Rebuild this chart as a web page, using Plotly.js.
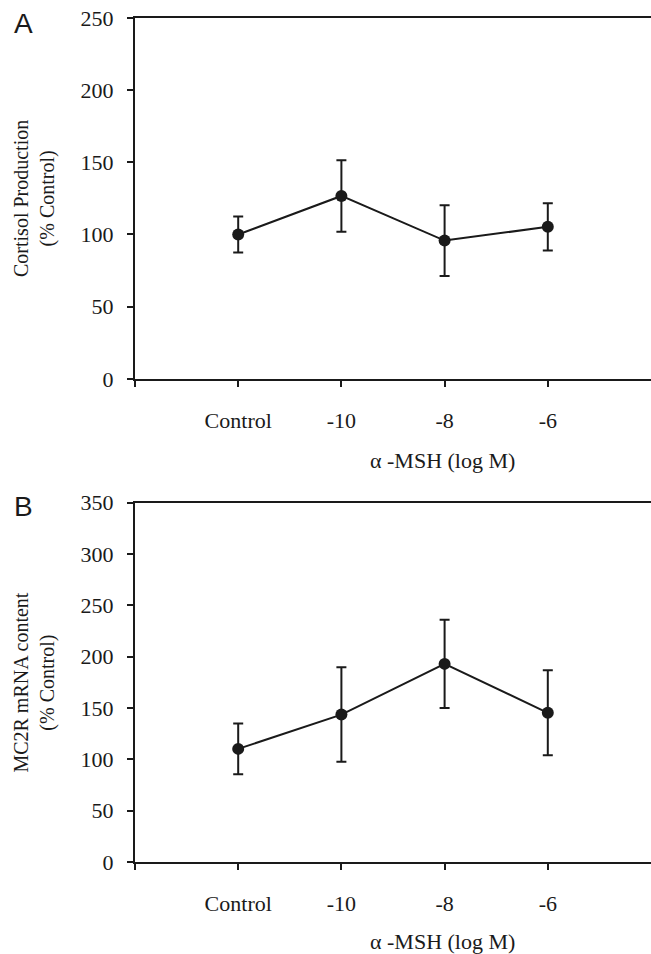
<!DOCTYPE html>
<html>
<head>
<meta charset="utf-8">
<script src="https://cdn.plot.ly/plotly-3.0.1.min.js"></script>
<style>html,body{margin:0;padding:0;background:#fff;}#chart{width:651px;height:954px;}</style>
</head>
<body>
<div id="chart"></div>
<script>
// Data
var categories = ["Control", "-10", "-8", "-6"];
var cortisolMean = [100, 126.7, 95.8, 105.3];
var cortisolErr = [12.5, 24.8, 24.5, 16.4];
var mc2rMean = [110.2, 143.6, 193, 145.3];
var mc2rErr = [24.7, 46, 43, 41.4];
var panelLabels = ["A", "B"];
var yTitleA = "Cortisol Production<br>(% Control)";
var yTitleB = "MC2R mRNA content<br>(% Control)";
var xTitle = "\u03b1 -MSH (log M)";

var xpos = categories.map(function(c, i){ return i; });
var serif = "Liberation Serif, Times New Roman, serif";
var ink = "#1a1a1a";

function trace(y, err, xa, ya){
  return {
    type: "scatter", mode: "lines+markers",
    x: xpos, y: y, xaxis: xa, yaxis: ya,
    line: {color: ink, width: 2},
    marker: {color: ink, size: 12, symbol: "circle"},
    error_y: {type: "data", array: err, visible: true, color: ink, thickness: 2, width: 5},
    hoverinfo: "skip", showlegend: false
  };
}

var tickvals = [-1].concat(xpos);
var ticktext = [""].concat(categories);

function xaxis(anchor){
  return {
    anchor: anchor, domain: [0, 1], range: [-1, 4],
    tickmode: "array", tickvals: tickvals, ticktext: ticktext,
    showline: true, linecolor: ink, linewidth: 2, mirror: true,
    ticks: "outside", ticklen: 6, tickwidth: 2, tickcolor: ink,
    ticklabelstandoff: 15,
    showgrid: false, zeroline: false,
    tickfont: {family: serif, size: 22, color: ink}
  };
}
function yaxis(anchor, domain, max){
  return {
    anchor: anchor, domain: domain, range: [0, max],
    tickmode: "linear", tick0: 0, dtick: 50,
    showline: true, linecolor: ink, linewidth: 2, mirror: false,
    ticks: "outside", ticklen: 6, tickwidth: 2, tickcolor: ink,
    ticklabelstandoff: 9,
    showgrid: false, zeroline: false,
    tickfont: {family: serif, size: 22, color: ink}
  };
}

var layout = {
  width: 651, height: 954,
  margin: {l: 135, r: 0, t: 18, b: 92},
  paper_bgcolor: "#fff", plot_bgcolor: "#fff",
  xaxis: xaxis("y"),
  yaxis: yaxis("x", [0.5725, 1], 250),
  xaxis2: xaxis("y2"),
  yaxis2: yaxis("x2", [0, 0.4257], 350),
  annotations: [
    {text: panelLabels[0], xref: "paper", yref: "paper", x: -0.217, y: 0.993, xanchor: "center", yanchor: "middle", showarrow: false, font: {family: "Liberation Sans, Arial, sans-serif", size: 28, color: ink}},
    {text: panelLabels[1], xref: "paper", yref: "paper", x: -0.217, y: 0.4218, xanchor: "center", yanchor: "middle", showarrow: false, font: {family: "Liberation Sans, Arial, sans-serif", size: 28, color: ink}},
    {text: yTitleA, xref: "paper", yref: "paper", x: -0.195, y: 0.786, xanchor: "center", yanchor: "middle", textangle: -90, showarrow: false, font: {family: serif, size: 20, color: ink}},
    {text: yTitleB, xref: "paper", yref: "paper", x: -0.195, y: 0.213, xanchor: "center", yanchor: "middle", textangle: -90, showarrow: false, font: {family: serif, size: 20, color: ink}},
    {text: xTitle, xref: "paper", yref: "paper", x: 0.595, y: 0.4755, xanchor: "center", yanchor: "middle", showarrow: false, font: {family: serif, size: 22, color: ink}},
    {text: xTitle, xref: "paper", yref: "paper", x: 0.595, y: -0.0945, xanchor: "center", yanchor: "middle", showarrow: false, font: {family: serif, size: 22, color: ink}}
  ]
};

Plotly.newPlot("chart", [trace(cortisolMean, cortisolErr, "x", "y"), trace(mc2rMean, mc2rErr, "x2", "y2")], layout, {displayModeBar: false, staticPlot: true});
</script>
</body>
</html>
